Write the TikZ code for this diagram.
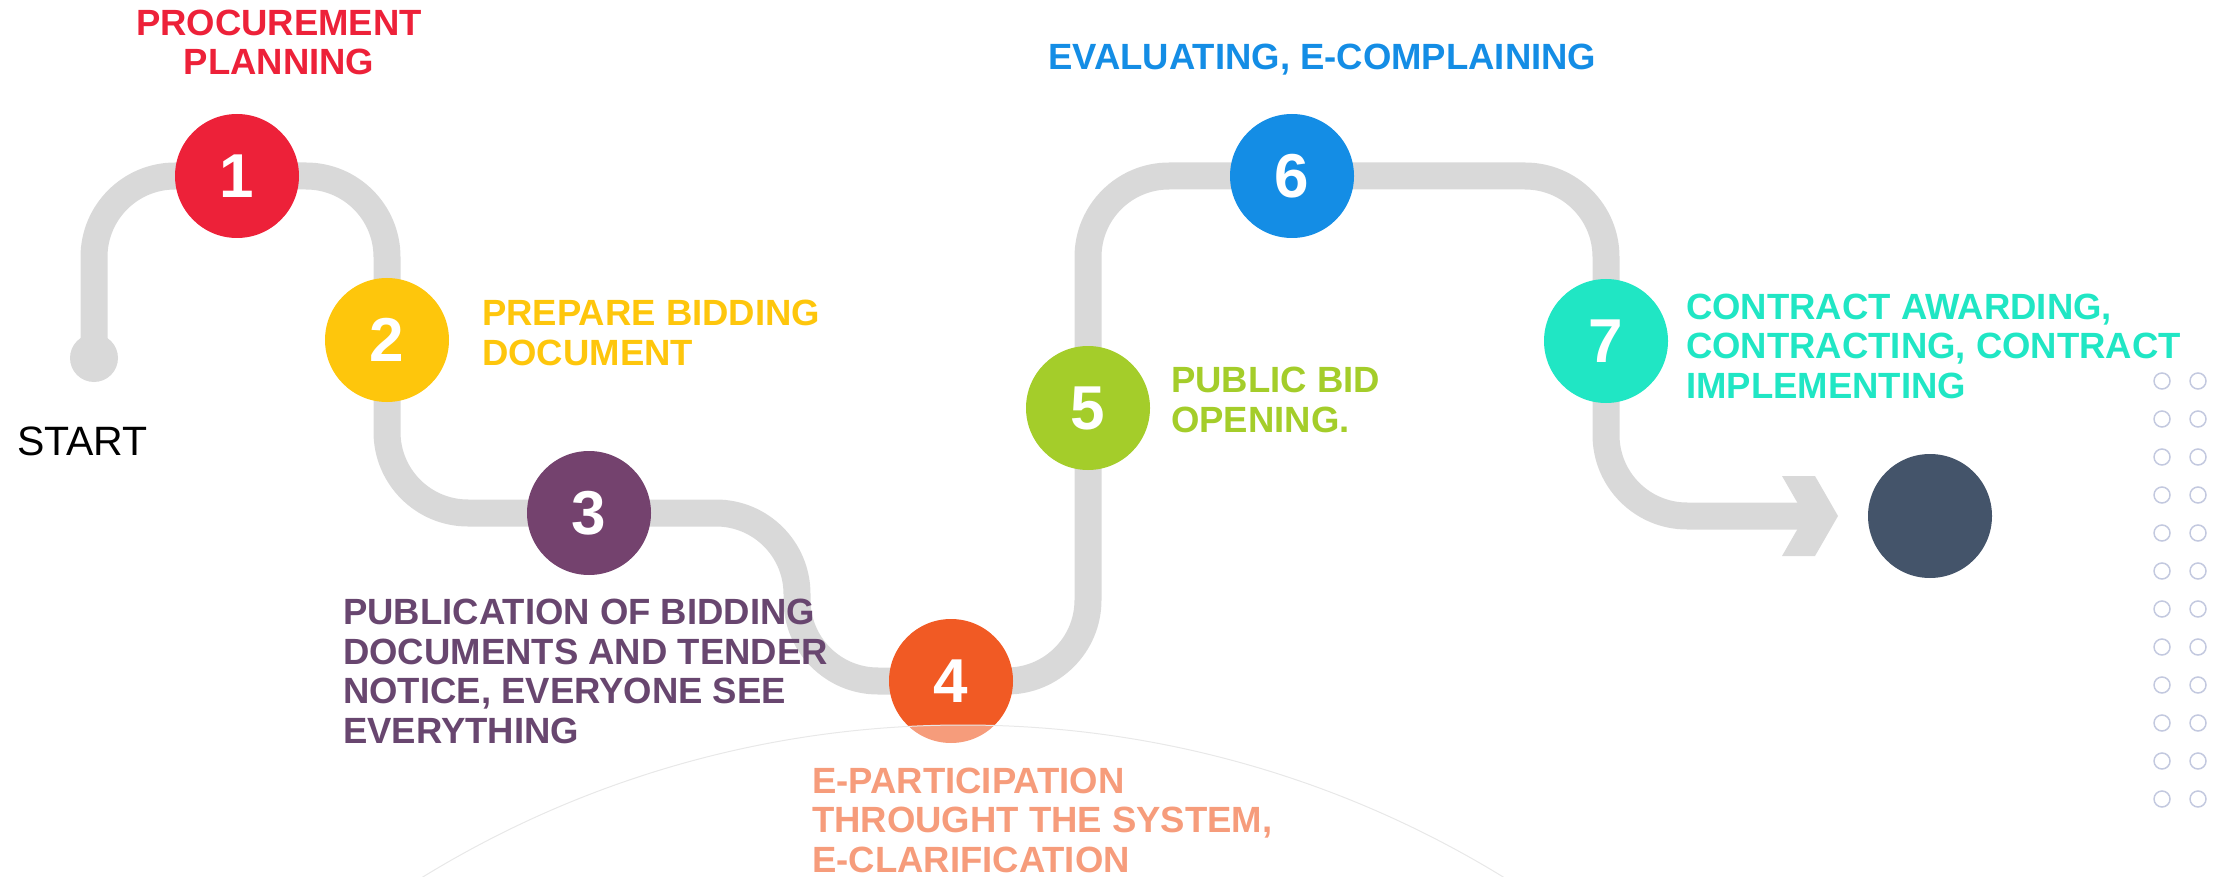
\documentclass[tikz,border=0pt]{standalone}
\usepackage{fontspec}
\setmainfont{Liberation Sans}
\usetikzlibrary{backgrounds}
\definecolor{cRed}{HTML}{ED2139}
\definecolor{cYellow}{HTML}{FEC60C}
\definecolor{cPurple}{HTML}{74426E}
\definecolor{cPurpleText}{HTML}{68466F}
\definecolor{cOrange}{HTML}{F15A24}
\definecolor{cLime}{HTML}{A4CD2A}
\definecolor{cBlue}{HTML}{148DE5}
\definecolor{cTeal}{HTML}{20E6C4}
\definecolor{cSlate}{HTML}{44546A}
\definecolor{cTrack}{HTML}{D9D9D9}
\definecolor{cDot}{HTML}{C3C9DF}
\tikzset{milestone/.style={circle,minimum size=124pt,inner sep=0pt,text=white,
           font=\fontsize{62}{62}\selectfont\bfseries},
         track/.style={draw=cTrack,line width=27pt,rounded corners=81pt},
         caption/.style={anchor=base west,inner sep=0pt,align=left,
           font=\fontsize{36.5}{39.5}\selectfont\bfseries}}

\begin{document}
\begin{tikzpicture}[x=1pt,y=-1pt]
  \useasboundingbox (0,0) rectangle (2222,877);
  % stations
  \node[circle,fill=cTrack,minimum size=48pt,inner sep=0pt] (start) at (94,358) {};
  \node[milestone,fill=cRed]    (s1) at (237,176) {1};
  \node[milestone,fill=cYellow] (s2) at (387,340) {2};
  \node[milestone,fill=cPurple] (s3) at (589,513) {3};
  \node[milestone,fill=cOrange] (s4) at (951,681) {4};
  \node[milestone,fill=cLime]   (s5) at (1088,408) {5};
  \node[milestone,fill=cBlue]   (s6) at (1292,176) {6};
  \node[milestone,fill=cTeal]   (s7) at (1606,341) {7};
  \node[circle,fill=cSlate,minimum size=124pt] (fin) at (1930,516) {};
  \coordinate (dip) at (797,681);
  \coordinate (arrowend) at (1806,516);
  \coordinate (tip) at (1838,516);
  % the road, one piece between each pair of stations
  \begin{pgfonlayer}{background}
    \draw[track] (start.center) |- (s1.center)
      (s1.center) -| (s2.center)
      (s2.center) |- (s3.center)
      (s3.center) -| (dip) -- (s4.center)
      (s4.center) -| (s5.center)
      (s5.center) |- (s6.center)
      (s6.center) -| (s7.center)
      (s7.center) |- (arrowend);
    \fill[cTrack] (tip) -- ++(-23,-40) -- ++(-33,0) -- ++(23,40)
      -- ++(-23,40) -- ++(33,0) -- cycle;
  \end{pgfonlayer}
  % captions (base = last line)
  \node[anchor=base west,inner sep=0pt,font=\fontsize{41}{41}\selectfont] (lstart) at (17,455) {START};
  \node[caption,anchor=base,align=center,text=cRed] (l1) at (279,75) {PROCUREMENT\\PLANNING};
  \node[caption,text=cYellow] (l2) at (482,365) {PREPARE BIDDING\\DOCUMENT};
  \node[caption,text=cPurpleText] (l3) at (343,743) {PUBLICATION OF BIDDING\\DOCUMENTS AND TENDER\\NOTICE, EVERYONE SEE\\EVERYTHING};
  \node[caption,text=cOrange] (l4) at (812,872) {E-PARTICIPATION\\THROUGHT THE SYSTEM,\\E-CLARIFICATION};
  \node[caption,text=cLime] (l5) at (1171,432) {PUBLIC BID\\OPENING.};
  \node[caption,text=cBlue] (l6) at (1048,70) {EVALUATING, E-COMPLAINING};
  \node[caption,text=cTeal] (l7) at (1686,398) {CONTRACT AWARDING,\\CONTRACTING, CONTRACT\\IMPLEMENTING};
  % dots
  \foreach \row in {0,...,11}
    \foreach \col in {0,1}
      \draw[cDot,line width=1.5pt] (2162+36*\col,381+38*\row) circle (8);
  % faint dome
  \begin{scope}
    \clip (0,0) rectangle (2222,877);
    \draw[black!9,line width=1pt,fill=white,fill opacity=0.4] (963,1760) circle (1035);
  \end{scope}
\end{tikzpicture}
\end{document}
